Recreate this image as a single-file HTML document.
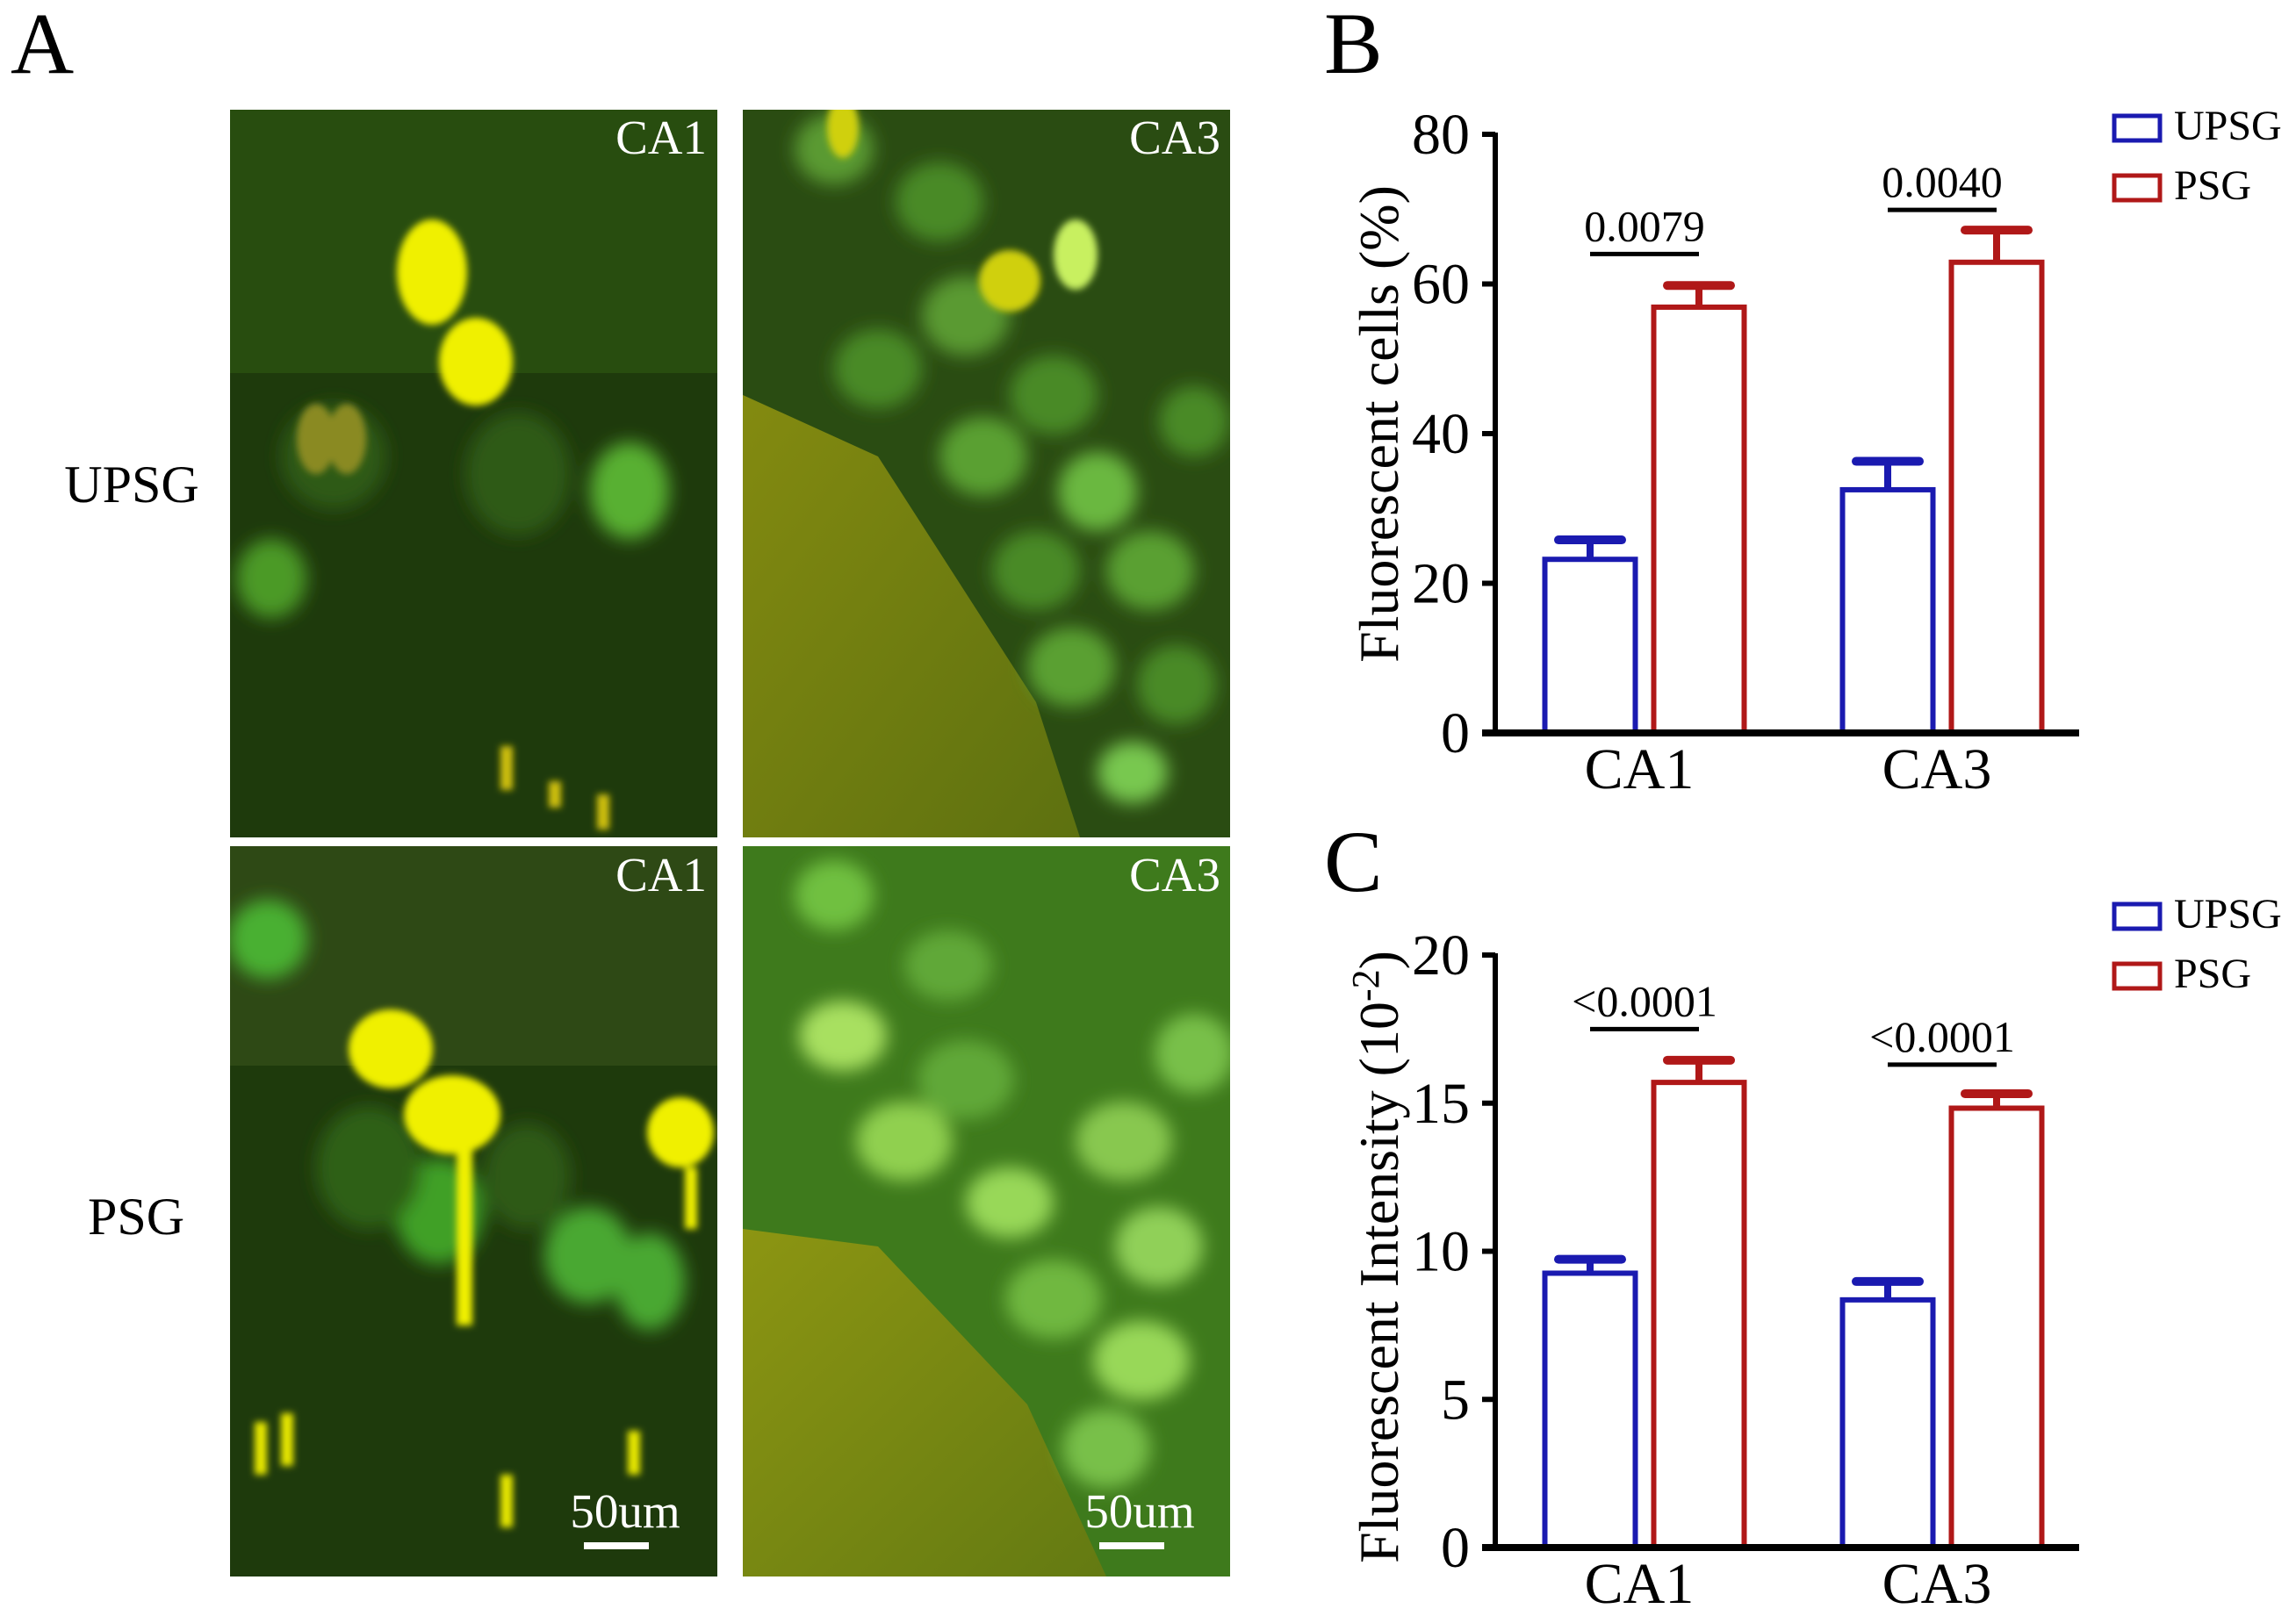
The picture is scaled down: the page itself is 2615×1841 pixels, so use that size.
<!DOCTYPE html>
<html><head><meta charset="utf-8">
<style>
html,body{margin:0;padding:0;background:#fff;}
body{width:2615px;height:1841px;overflow:hidden;position:relative;font-family:"Liberation Serif",serif;}
svg{position:absolute;left:0;top:0;}
svg text{font-family:"Liberation Serif",serif;}
</style></head>
<body>
<svg id="fig" width="2615" height="1841" viewBox="0 0 2615 1841" xmlns="http://www.w3.org/2000/svg" font-family="'Liberation Serif', serif">
<defs>
<filter id="blur" x="-20%" y="-20%" width="140%" height="140%"><feGaussianBlur stdDeviation="10"/></filter>
<filter id="blur2" x="-20%" y="-20%" width="140%" height="140%"><feGaussianBlur stdDeviation="4"/></filter>
<clipPath id="cTL"><rect x="262" y="125" width="555" height="829"/></clipPath>
<clipPath id="cTR"><rect x="846" y="125" width="555" height="829"/></clipPath>
<clipPath id="cBL"><rect x="262" y="964" width="555" height="832"/></clipPath>
<clipPath id="cBR"><rect x="846" y="964" width="555" height="832"/></clipPath>
<linearGradient id="fib" x1="0" y1="0" x2="1" y2="1"><stop offset="0" stop-color="#9a9a10"/><stop offset="1" stop-color="#6a7a10"/></linearGradient>
</defs>
<text x="12" y="83" font-size="100">A</text>
<text x="150" y="572" font-size="60" text-anchor="middle">UPSG</text>
<text x="155" y="1406" font-size="60" text-anchor="middle">PSG</text>

<g clip-path="url(#cTL)">
<rect x="262" y="125" width="555" height="829" fill="#1e3a0c"/>
<rect x="262" y="125" width="555" height="300" fill="#2f5a12" opacity="0.6"/>
<g filter="url(#blur)">
<ellipse cx="309" cy="659" rx="40" ry="45" fill="#4c9a28"/>
<ellipse cx="717" cy="559" rx="45" ry="55" fill="#58b030"/>
<ellipse cx="590" cy="540" rx="60" ry="70" fill="#2e5a18"/>
<ellipse cx="380" cy="520" rx="60" ry="60" fill="#2e5a18"/>
</g>
<g filter="url(#blur2)">
<ellipse cx="492" cy="310" rx="40" ry="60" fill="#f0f000"/>
<ellipse cx="542" cy="412" rx="42" ry="50" fill="#f0f000"/>
<ellipse cx="360" cy="500" rx="22" ry="40" fill="#8a8a20"/>
<ellipse cx="395" cy="500" rx="22" ry="40" fill="#8a8a20"/>
<rect x="570" y="850" width="14" height="50" fill="#d0c010"/>
<rect x="625" y="890" width="14" height="30" fill="#d0c010"/>
<rect x="680" y="905" width="14" height="40" fill="#d0c010"/>
</g>
<text x="805" y="175" font-size="55" fill="#fff" text-anchor="end">CA1</text>
</g>

<g clip-path="url(#cTR)">
<rect x="846" y="125" width="555" height="829" fill="#2a4c12"/>
<polygon points="846,450 1000,520 1180,800 1230,954 846,954" fill="url(#fib)" opacity="0.8"/>
<g filter="url(#blur)">
<ellipse cx="950" cy="170" rx="45" ry="40" fill="#5a9a30"/>
<ellipse cx="1070" cy="230" rx="50" ry="45" fill="#4a8a28"/>
<ellipse cx="1000" cy="420" rx="50" ry="45" fill="#4a8a28"/>
<ellipse cx="1100" cy="360" rx="50" ry="45" fill="#5a9a30"/>
<ellipse cx="1200" cy="450" rx="50" ry="45" fill="#4a8a28"/>
<ellipse cx="1120" cy="520" rx="50" ry="45" fill="#5aa030"/>
<ellipse cx="1250" cy="560" rx="45" ry="45" fill="#6ab840"/>
<ellipse cx="1310" cy="650" rx="50" ry="45" fill="#5aa030"/>
<ellipse cx="1180" cy="650" rx="50" ry="45" fill="#4a8a28"/>
<ellipse cx="1220" cy="760" rx="50" ry="45" fill="#5aa030"/>
<ellipse cx="1340" cy="780" rx="45" ry="45" fill="#4a8a28"/>
<ellipse cx="1290" cy="880" rx="40" ry="35" fill="#78c850"/>
<ellipse cx="1360" cy="480" rx="40" ry="40" fill="#4a8a28"/>
</g>
<g filter="url(#blur2)">
<ellipse cx="1150" cy="320" rx="35" ry="35" fill="#d0d010"/>
<ellipse cx="1225" cy="290" rx="25" ry="40" fill="#c8f060"/>
<ellipse cx="960" cy="145" rx="18" ry="35" fill="#d0d010"/>
</g>
<text x="1390" y="175" font-size="55" fill="#fff" text-anchor="end">CA3</text>
</g>

<g clip-path="url(#cBL)">
<rect x="262" y="964" width="555" height="832" fill="#1e3a0c"/>
<rect x="262" y="964" width="555" height="250" fill="#34501a" opacity="0.7"/>
<g filter="url(#blur)">
<ellipse cx="305" cy="1070" rx="45" ry="45" fill="#48b030"/>
<ellipse cx="500" cy="1380" rx="50" ry="60" fill="#40a028"/>
<ellipse cx="670" cy="1430" rx="50" ry="55" fill="#48a830"/>
<ellipse cx="740" cy="1460" rx="40" ry="55" fill="#48a830"/>
<ellipse cx="420" cy="1330" rx="60" ry="70" fill="#2e6018"/>
<ellipse cx="600" cy="1340" rx="50" ry="60" fill="#2e5a18"/>
</g>
<g filter="url(#blur2)">
<ellipse cx="445" cy="1195" rx="48" ry="45" fill="#f0f000"/>
<ellipse cx="515" cy="1270" rx="55" ry="45" fill="#f0f000"/>
<rect x="520" y="1280" width="18" height="230" fill="#f0f000"/>
<ellipse cx="775" cy="1290" rx="38" ry="40" fill="#f0f000"/>
<rect x="780" y="1330" width="14" height="70" fill="#f0f000"/>
<rect x="290" y="1620" width="14" height="60" fill="#e8e800"/>
<rect x="320" y="1610" width="14" height="60" fill="#e8e800"/>
<rect x="715" y="1630" width="14" height="50" fill="#e8e800"/>
<rect x="570" y="1680" width="14" height="60" fill="#e8e800"/>
</g>
<text x="805" y="1015" font-size="55" fill="#fff" text-anchor="end">CA1</text>
<text x="712" y="1740" font-size="55" fill="#fff" text-anchor="middle">50um</text>
<rect x="665" y="1757" width="74" height="8" fill="#fff"/>
</g>

<g clip-path="url(#cBR)">
<rect x="846" y="964" width="555" height="832" fill="#3e7a1c"/>
<polygon points="846,1400 1000,1420 1170,1600 1260,1796 846,1796" fill="url(#fib)" opacity="0.85"/>
<g filter="url(#blur)">
<ellipse cx="950" cy="1020" rx="45" ry="40" fill="#70c040"/>
<ellipse cx="960" cy="1180" rx="50" ry="40" fill="#a8e060"/>
<ellipse cx="1100" cy="1230" rx="55" ry="45" fill="#60a838"/>
<ellipse cx="1030" cy="1300" rx="55" ry="45" fill="#90d050"/>
<ellipse cx="1150" cy="1370" rx="50" ry="40" fill="#98d858"/>
<ellipse cx="1280" cy="1300" rx="55" ry="45" fill="#88c850"/>
<ellipse cx="1320" cy="1420" rx="50" ry="45" fill="#90d058"/>
<ellipse cx="1200" cy="1480" rx="55" ry="45" fill="#70b840"/>
<ellipse cx="1300" cy="1550" rx="55" ry="45" fill="#98d858"/>
<ellipse cx="1260" cy="1650" rx="50" ry="45" fill="#78c048"/>
<ellipse cx="1360" cy="1200" rx="45" ry="45" fill="#78c048"/>
<ellipse cx="1080" cy="1100" rx="50" ry="40" fill="#60a838"/>
</g>
<text x="1390" y="1015" font-size="55" fill="#fff" text-anchor="end">CA3</text>
<text x="1298" y="1740" font-size="55" fill="#fff" text-anchor="middle">50um</text>
<rect x="1252" y="1757" width="74" height="8" fill="#fff"/>
</g>

<g id="chartB"></g>
<g id="chartC"></g>
</svg>
<script>
const categories = ["CA1", "CA3"];
const seriesNames = ["UPSG", "PSG"];
const bUpsg = [23.2, 32.5];
const bUpsgErr = [2.6, 3.8];
const bPsg = [56.9, 62.9];
const bPsgErr = [2.9, 4.3];
const bTicks = [0, 20, 40, 60, 80];
const bPvals = ["0.0079", "0.0040"];
const bPvalLevel = [64.0, 69.9];
const cUpsg = [9.26, 8.36];
const cUpsgErr = [0.47, 0.62];
const cPsg = [15.7, 14.83];
const cPsgErr = [0.75, 0.49];
const cTicks = [0, 5, 10, 15, 20];
const cPvals = ["<0.0001", "<0.0001"];
const cPvalLevel = [17.5, 16.3];

const NS = "http://www.w3.org/2000/svg";
function mk(tag, attrs, parent){ const e=document.createElementNS(NS,tag); for(const k in attrs) e.setAttribute(k,attrs[k]); parent.appendChild(e); return e; }
const colors = ["#1a1ab0", "#b01818"];

function drawChart(g, y0px, ytopPx, yMax, ticks, series, errs, pvals, pvalLevels, letter, letterY, titleParts, legendY){
  const axisX = 1703;
  const y = v => y0px - (v / yMax) * (y0px - ytopPx);
  const catX = i => 1873 + i * 339;
  const offs = [-62, 62];
  const bw = 103;
  const lt = mk("text",{x:1508,y:letterY,"font-size":100},g);
  lt.textContent = letter;
  
  
  const ya = mk("line",{x1:axisX,y1:ytopPx-2,x2:axisX,y2:y0px,stroke:"#000","stroke-width":6},g);
  
  
  ticks.forEach(t=>{
    const tk = mk("line",{x1:axisX-15,y1:y(t),x2:axisX,y2:y(t),stroke:"#000","stroke-width":6},g);
    
    
    const tl = mk("text",{x:1674,y:y(t)+22,"font-size":66,"text-anchor":"end"},g);
    tl.textContent = t;
    
    
  });
  series.forEach((s,si)=>{
    s.forEach((v,ci)=>{
      const cx = catX(ci)+offs[si];
      const top = y(v);
      const bar = mk("rect",{x:cx-bw/2,y:top,width:bw,height:y0px-top,fill:"#fff",stroke:colors[si],"stroke-width":6},g);
      
      
      const et = y(v + errs[si][ci]);
      const el = mk("line",{x1:cx,y1:top,x2:cx,y2:et,stroke:colors[si],"stroke-width":8},g);
      
      
      const ec = mk("line",{x1:cx-36,y1:et,x2:cx+36,y2:et,stroke:colors[si],"stroke-width":10,"stroke-linecap":"round"},g);
      
      
    });
  });
  const xa = mk("line",{x1:1688,y1:y0px,x2:2368,y2:y0px,stroke:"#000","stroke-width":8},g);
  
  
  categories.forEach((c,ci)=>{
    const xl = mk("text",{x:catX(ci)-6,y:y0px+63,"font-size":66,"text-anchor":"middle"},g);
    xl.textContent = c;
    
    
    const ly = y(pvalLevels[ci]);
    const sl = mk("line",{x1:catX(ci)+offs[0],y1:ly,x2:catX(ci)+offs[1],y2:ly,stroke:"#000","stroke-width":5},g);
    
    
    const pt = mk("text",{x:catX(ci),y:ly-15,"font-size":50,"text-anchor":"middle"},g);
    pt.textContent = pvals[ci];
    
    
  });
  const tt = mk("text",{transform:"translate(1592,"+titleParts.cy+") rotate(-90)","font-size":64,"text-anchor":"middle"},g);
  tt.textContent = titleParts.text;
  if(titleParts.sup){ const ts=mk("tspan",{dy:-22,"font-size":44},tt); ts.textContent=titleParts.sup; const te=mk("tspan",{dy:22},tt); te.textContent=")"; }
  
  
  seriesNames.forEach((n,si)=>{
    const ry = legendY + si*68;
    const lr = mk("rect",{x:2408,y:ry,width:52,height:28,fill:"#fff",stroke:colors[si],"stroke-width":5},g);
    
    
    const lt2 = mk("text",{x:2476,y:ry+27,"font-size":48},g);
    lt2.textContent = n;
    
    
  });
}
drawChart(document.getElementById("chartB"), 835, 153, 80, bTicks, [bUpsg,bPsg], [bUpsgErr,bPsgErr], bPvals, bPvalLevel, "B", 83, {text:"Fluorescent cells (%)", cy:483}, 132);
drawChart(document.getElementById("chartC"), 1763, 1088, 20, cTicks, [cUpsg,cPsg], [cUpsgErr,cPsgErr], cPvals, cPvalLevel, "C", 1015, {text:"Fluorescent Intensity (10", sup:"-2", cy:1432}, 1030);
</script>
</body></html>
